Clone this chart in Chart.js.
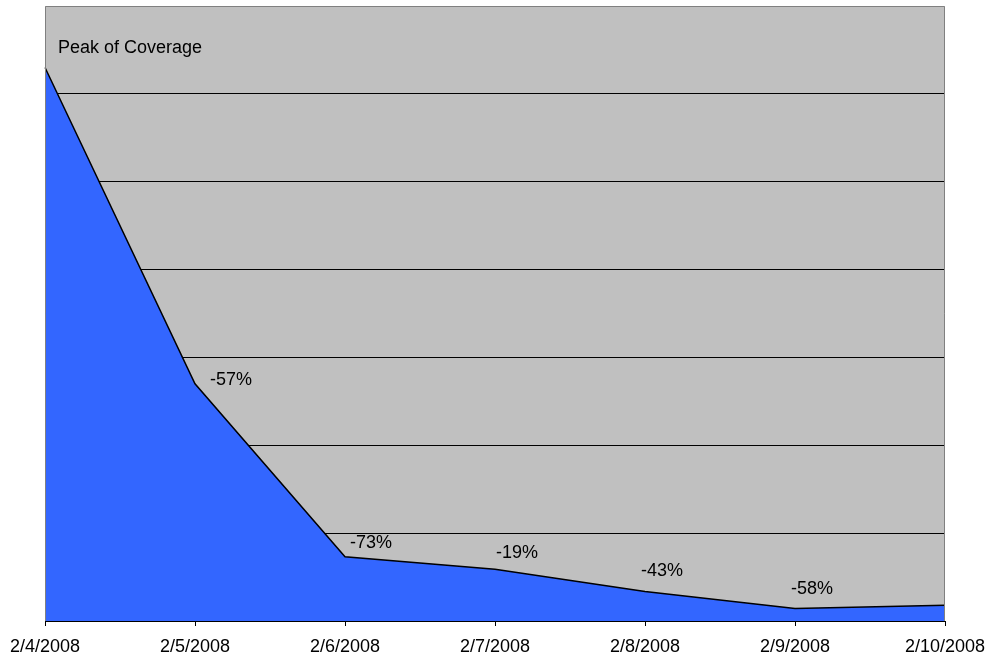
<!DOCTYPE html>
<html>
<head>
<meta charset="utf-8">
<title>Coverage</title>
<script src="https://cdn.jsdelivr.net/npm/chart.js@4/dist/chart.umd.min.js"></script>
<style>
  html, body { margin: 0; padding: 0; background: #ffffff; }
  #wrap { width: 987px; height: 657px; }
</style>
</head>
<body>
<div id="wrap"><canvas id="chart" width="987" height="657"></canvas></div>
<script>
// Daily coverage, week of 4 February 2008
const dates = ['2/4/2008', '2/5/2008', '2/6/2008', '2/7/2008', '2/8/2008', '2/9/2008', '2/10/2008'];
const coverage = [6300, 2700, 730, 590, 336, 141, 180];
const pointNotes = ['Peak of Coverage', '-57%', '-73%', '-19%', '-43%', '-58%', ''];

const FONT = '"Liberation Sans", Arial, sans-serif';

// Grey plot background plus its thin grey frame
const plotFrame = {
  id: 'plotFrame',
  beforeDraw(chart) {
    const { ctx, chartArea: a } = chart;
    ctx.save();
    ctx.fillStyle = '#C0C0C0';
    ctx.fillRect(a.left, a.top, a.right - a.left, a.bottom - a.top);
    ctx.restore();
  },
  afterDraw(chart) {
    const { ctx, chartArea: a } = chart;
    ctx.save();
    ctx.strokeStyle = '#808080';
    ctx.lineWidth = 1;
    ctx.beginPath();
    ctx.moveTo(a.left + 0.5, a.bottom);
    ctx.lineTo(a.left + 0.5, a.top + 0.5);
    ctx.lineTo(a.right - 0.5, a.top + 0.5);
    ctx.lineTo(a.right - 0.5, a.bottom);
    ctx.stroke();
    ctx.restore();
  }
};

// Text notes placed beside each point of the series
const noteOffsets = [[13, -19], [15, -4], [5, -14], [1, -16], [-4, -20], [-4, -20], [0, 0]];
const pointLabels = {
  id: 'pointLabels',
  afterDatasetsDraw(chart) {
    const { ctx } = chart;
    const meta = chart.getDatasetMeta(0);
    ctx.save();
    ctx.fillStyle = '#000000';
    ctx.font = '18px ' + FONT;
    ctx.textAlign = 'left';
    ctx.textBaseline = 'middle';
    meta.data.forEach((pt, i) => {
      const text = pointNotes[i];
      if (!text) return;
      const [dx, dy] = noteOffsets[i];
      ctx.fillText(text, pt.x + dx, pt.y + dy);
    });
    ctx.restore();
  }
};

new Chart(document.getElementById('chart'), {
  type: 'line',
  data: {
    labels: dates,
    datasets: [{
      data: coverage,
      borderColor: '#000000',
      borderWidth: 1.5,
      backgroundColor: '#3366FF',
      fill: 'origin',
      tension: 0,
      pointRadius: 0,
      pointHoverRadius: 0
    }]
  },
  options: {
    responsive: false,
    animation: false,
    events: [],
    layout: { padding: { left: 45, right: 42, top: 6, bottom: 0 } },
    plugins: {
      legend: { display: false },
      tooltip: { enabled: false }
    },
    scales: {
      x: {
        offset: false,
        // the date labels may overhang the plot edges; keep the axis band compact
        afterFit(scale) {
          scale.paddingLeft = 0;
          scale.paddingRight = 0;
          scale.height = 36;
        },
        grid: {
          drawOnChartArea: false,
          drawTicks: true,
          tickLength: 5,
          color: '#000000',
          lineWidth: 1
        },
        border: { display: true, color: '#000000', width: 1 },
        ticks: {
          color: '#000000',
          font: { family: FONT, size: 18 },
          padding: 10,
          maxRotation: 0,
          autoSkip: false
        }
      },
      y: {
        min: 0,
        max: 7000,
        ticks: { display: false, stepSize: 1000 },
        grid: {
          drawTicks: false,
          lineWidth: 1,
          color: (c) => (c.tick && c.tick.value === 7000 ? 'rgba(0,0,0,0)' : '#000000')
        },
        border: { display: false }
      }
    }
  },
  plugins: [plotFrame, pointLabels]
});
</script>
</body>
</html>
